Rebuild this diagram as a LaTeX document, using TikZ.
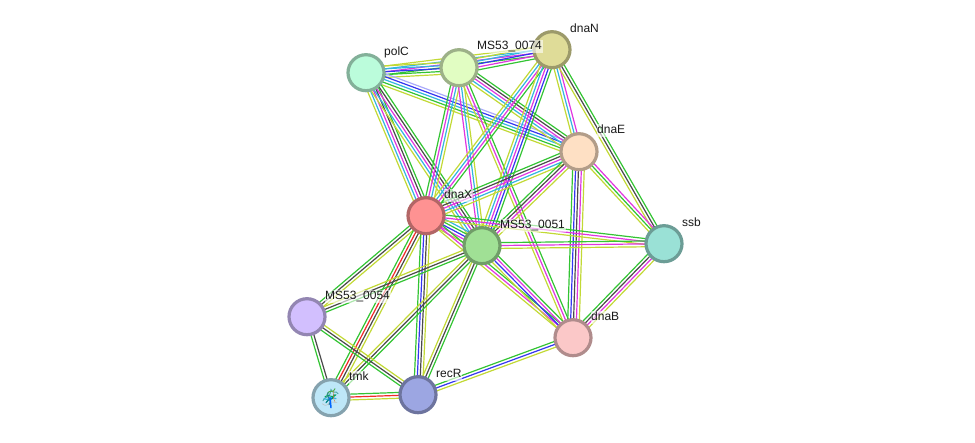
\documentclass[tikz,border=0pt]{standalone}
\usepackage{fontspec}
\setmainfont{Liberation Sans}
\usetikzlibrary{calc,backgrounds}
\definecolor{cGreen}{HTML}{33C433}
\definecolor{cRed}{HTML}{F02A2A}
\definecolor{cBlue}{HTML}{3535F0}
\definecolor{cMag}{HTML}{E035E0}
\definecolor{cCyan}{HTML}{33B5E0}
\definecolor{cYel}{HTML}{C2D935}
\definecolor{cBlk}{HTML}{4A4A4A}
\definecolor{cLav}{HTML}{AAAAFA}
\tikzset{
  x=1pt,y=-1pt,
  protein/.style={circle,draw=#1!70!black,fill=#1,line width=3.2pt,minimum size=36pt,inner sep=0pt},
  tag/.style={anchor=west,inner sep=0.6pt,fill=white,fill opacity=.6,text opacity=1,text=black!90,font=\fontsize{12}{12}\selectfont,text height=8.6pt,text depth=2.4pt},
  chan/.style={line width=1.2pt,draw=#1},
}
% One bundle of parallel evidence lines between two proteins
\newcommand{\bundle}[3]{%
  \foreach \c [count=\n] in {#3}{\global\let\bundlecount\n}%
  \foreach \c [count=\i] in {#3}{%
    \pgfmathsetmacro{\off}{(\i-(\bundlecount+1)/2)*2.9}%
    \draw[chan=\c] ($(#1)!\off pt!90:(#2)$) -- ($(#2)!\off pt!-90:(#1)$);%
  }%
}
\begin{document}
\begin{tikzpicture}
\useasboundingbox (0,-0.7) rectangle (975,442.3);
% proteins
\definecolor{fPolC}{HTML}{BBFCDB}
\definecolor{fM74}{HTML}{E1FDC2}
\definecolor{fDnaN}{HTML}{DFDC98}
\definecolor{fDnaE}{HTML}{FEE0C4}
\definecolor{fDnaX}{HTML}{FE9292}
\definecolor{fM51}{HTML}{A0E095}
\definecolor{fSsb}{HTML}{9AE1D6}
\definecolor{fM54}{HTML}{D2BFFE}
\definecolor{fDnaB}{HTML}{FBC8C8}
\definecolor{fTmk}{HTML}{BEE7F8}
\definecolor{fRecR}{HTML}{9CA6E2}
\node[protein=fPolC] (polC) at (366,72) {};
\node[protein=fM74] (m74) at (459,67) {};
\node[protein=fDnaN] (dnaN) at (552,49) {};
\node[protein=fDnaE] (dnaE) at (579,151) {};
\node[protein=fDnaX] (dnaX) at (426,215) {};
\node[protein=fM51] (m51) at (482,245) {};
\node[protein=fSsb] (ssb) at (664,243) {};
\node[protein=fM54] (m54) at (307,316) {};
\node[protein=fDnaB] (dnaB) at (573,337) {};
\node[protein=fTmk] (tmk) at (331,397) {};
\node[protein=fRecR] (recR) at (418,394) {};
% evidence lines behind the proteins
\begin{scope}[on background layer]
\bundle{polC}{dnaN}{cGreen,cMag,cCyan,cYel}
\bundle{m74}{dnaN}{cGreen,cMag,cBlue,cCyan,cYel}
\bundle{polC}{m74}{cYel,cGreen,cBlue,cCyan,cYel}
\bundle{polC}{dnaE}{cYel,cGreen,cCyan,cBlue,cLav}
\bundle{m74}{dnaE}{cYel,cCyan,cMag,cBlk,cGreen}
\bundle{dnaN}{dnaE}{cYel,cCyan,cMag}
\bundle{dnaN}{ssb}{cYel,cBlk,cGreen}
\bundle{dnaE}{ssb}{cYel,cGreen,cMag}
\bundle{polC}{dnaX}{cYel,cCyan,cMag,cBlk,cGreen}
\bundle{polC}{m51}{cYel,cCyan,cMag,cBlk,cGreen}
\bundle{m74}{dnaX}{cGreen,cMag,cCyan,cYel}
\bundle{m74}{m51}{cMag,cCyan,cYel}
\bundle{m74}{dnaB}{cYel,cMag,cGreen}
\bundle{dnaN}{dnaX}{cYel,cCyan,cMag,cGreen}
\bundle{dnaN}{m51}{cYel,cCyan,cMag,cBlue,cGreen}
\bundle{dnaE}{dnaX}{cGreen,cBlk,cMag,cCyan,cYel}
\bundle{dnaE}{m51}{cGreen,cBlk,cMag,cYel}
\bundle{dnaE}{dnaB}{cGreen,cBlue,cBlk,cMag,cYel}
\bundle{dnaX}{m51}{cYel,cMag,cBlue,cGreen,cCyan}
\bundle{dnaX}{ssb}{cYel,cMag,cGreen}
\bundle{m51}{ssb}{cYel,cMag,cGreen}
\bundle{dnaX}{dnaB}{cYel,cMag,cGreen}
\bundle{m51}{dnaB}{cYel,cBlue,cMag,cGreen}
\bundle{ssb}{dnaB}{cGreen,cBlk,cMag,cYel}
\bundle{dnaX}{m54}{cGreen,cBlk,cYel}
\bundle{dnaX}{tmk}{cGreen,cRed,cBlk,cYel}
\bundle{dnaX}{recR}{cGreen,cBlue,cBlk,cYel}
\bundle{m51}{m54}{cYel,cBlk,cGreen}
\bundle{m51}{tmk}{cYel,cBlk,cGreen}
\bundle{m51}{recR}{cYel,cBlk,cGreen}
\bundle{m54}{tmk}{cGreen,cBlk}
\bundle{m54}{recR}{cGreen,cBlk,cYel}
\bundle{tmk}{recR}{cYel,cRed,cGreen}
\bundle{recR}{dnaB}{cYel,cBlue,cGreen}
\end{scope}
% structure thumbnail inside tmk
\begin{scope}[shift={(tmk.center)},line cap=round]
\draw[black!25,line width=.5pt] (-9,6) .. controls (-4,10) and (-3,6) .. (-1,4) .. controls (2,6) and (3,3) .. (6,5);
\draw[teal!70!white,line width=1pt] (-8,3) .. controls (-4,-4) and (-2,3) .. (0,-8) .. controls (2,-3) and (5,-8) .. (7,-4);
\draw[green!55!black!70,line width=1pt] (-4,-3) .. controls (-1,-10) and (2,-3) .. (4,-9);
\draw[cCyan,line width=1.2pt] (-7,1) .. controls (-3,4) and (0,-3) .. (5,1);
\draw[teal,line width=1.2pt] (-5,5) .. controls (-2,-1) and (1,5) .. (3,-3);
\draw[teal!70!green,line width=1pt] (-6,-1) .. controls (-2,-5) and (0,2) .. (5,-3);
\draw[cCyan!70!black,line width=1pt] (-3,-5) .. controls (-5,1) and (2,1) .. (-2,7);
\draw[blue!60!cyan,line width=1.5pt] (-1,0) -- (0,10);
\draw[orange!60!gray,line width=.4pt] (2,-7) .. controls (4,-3) and (1,0) .. (4,4);
\end{scope}
% labels
\node[tag] (lPolC) at (383.4,51.8) {polC};
\node[tag] (lM74) at (476.4,45.8) {MS53\_0074};
\node[tag] (lDnaN) at (569.4,28.8) {dnaN};
\node[tag] (lDnaE) at (596.4,129.8) {dnaE};
\node[tag] (lDnaX) at (443.4,194.8) {dnaX};
\node[tag] (lM51) at (499.4,224.8) {MS53\_0051};
\node[tag] (lSsb) at (681.4,222.8) {ssb};
\node[tag] (lM54) at (324.4,295.8) {MS53\_0054};
\node[tag] (lDnaB) at (590.4,316.8) {dnaB};
\node[tag] (lTmk) at (348.4,376.8) {tmk};
\node[tag] (lRecR) at (435.4,373.8) {recR};
\end{tikzpicture}
\end{document}
